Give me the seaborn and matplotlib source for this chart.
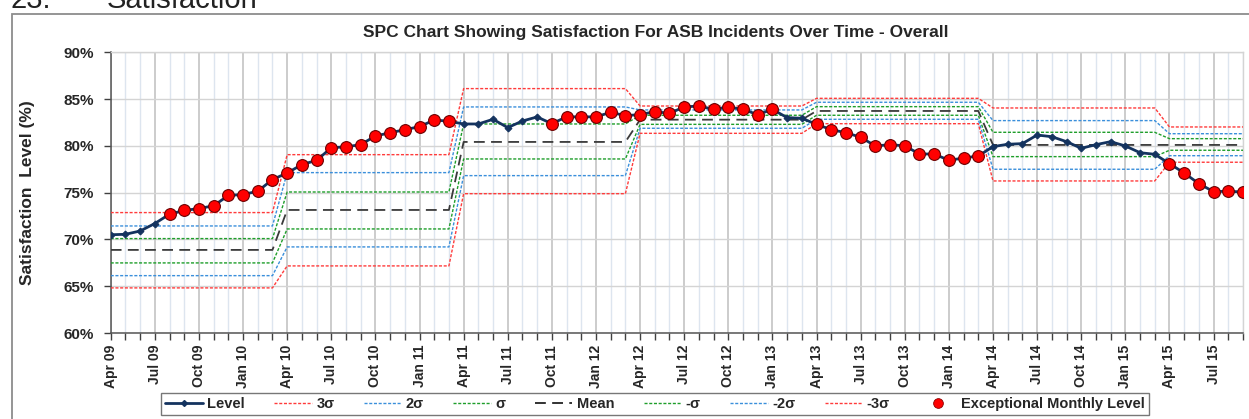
import numpy as np
import pandas as pd
import matplotlib
matplotlib.use("Agg")
import matplotlib.pyplot as plt
import seaborn as sns
from matplotlib.lines import Line2D
from matplotlib.patches import Rectangle

# ---------------- data ----------------
month_labels = list(pd.date_range("2009-04-01", periods=78, freq="MS").strftime("%b %y"))

level = [70.5, 70.55, 70.9, 71.7, 72.7, 73.1, 73.3, 73.6, 74.7, 74.8,
         75.15, 76.4, 77.1, 78.0, 78.45, 79.8, 79.9, 80.13, 81.06, 81.4,
         81.73, 82.05, 82.77, 82.63, 82.34, 82.34, 82.84, 81.95, 82.66, 83.09,
         82.37, 83.1, 83.1, 83.1, 83.59, 83.23, 83.34, 83.66, 83.48, 84.16,
         84.26, 83.9, 84.16, 83.9, 83.34, 83.9, 83.02, 82.95, 82.3, 81.73,
         81.41, 80.92, 79.99, 80.13, 80.0, 79.13, 79.13, 78.46, 78.7, 78.92,
         79.92, 80.17, 80.24, 81.16, 80.98, 80.45, 79.74, 80.13, 80.45, 79.99,
         79.27, 79.1, 78.1, 77.1, 75.96, 75.11, 75.15, 75.07]

# exceptional months given as inclusive index runs
exceptional_runs = [(4, 23), (30, 45), (48, 59), (72, 77)]

# control limits per period (Apr-Mar years, last one partial)
period_len = [12, 12, 12, 12, 12, 12, 6]
plus3 = [72.87, 79.06, 86.12, 84.26, 85.08, 84.05, 82.02]
plus2 = [71.44, 77.14, 84.16, 83.84, 84.66, 82.70, 81.30]
plus1 = [70.09, 75.07, 82.34, 83.27, 84.19, 81.45, 80.77]
mean_ = [68.88, 73.15, 80.42, 82.80, 83.73, 80.10, 80.10]
minus1 = [67.49, 71.12, 78.60, 82.30, 83.27, 78.85, 79.53]
minus2 = [66.13, 69.20, 76.82, 81.88, 82.84, 77.50, 78.95]
minus3 = [64.82, 67.17, 74.89, 81.34, 82.37, 76.25, 78.25]

# ---------------- frames ----------------
idx = np.arange(len(level))
def expand(vals):
    return np.repeat(vals, period_len)

df = pd.DataFrame({"m": idx, "level": level,
                   "p3": expand(plus3), "p2": expand(plus2), "p1": expand(plus1),
                   "mean": expand(mean_), "m1": expand(minus1), "m2": expand(minus2),
                   "m3": expand(minus3)})
exc_idx = np.concatenate([np.arange(a, b + 1) for a, b in exceptional_runs])
exc = df.loc[exc_idx]

# ---------------- style ----------------
sns.set_theme(style="white")
plt.rcParams["font.family"] = ["Liberation Sans", "DejaVu Sans"]

W, H = 1249, 419
fig = plt.figure(figsize=(W / 100, H / 100), dpi=100)
fig.patch.set_facecolor("white")

# outer chart border
fig.add_artist(Rectangle((12 / W, -0.2), 1.5, (1 - 14 / H) + 0.2,
                         transform=fig.transFigure, fill=False,
                         edgecolor="#8c8c8c", lw=1.3, clip_on=False))

# section header (cut at the top edge, as in the source page)
fig.text(10 / W, 1 - 8 / H, "23.", fontsize=21, va="baseline", ha="left", color="#222222")
fig.text(107 / W, 1 - 8 / H, "Satisfaction", fontsize=21, va="baseline", ha="left", color="#222222")

left, right, top, bottom = 110.7, 1243, 52.3, 333
ax = fig.add_axes([left / W, 1 - bottom / H, (right - left) / W, (bottom - top) / H])
ax.set_facecolor("white")

RED = "#FF3B3B"
BLUE = "#3A8FDB"
GREEN = "#1E9E2A"
NAVY = "#14335F"
ls_dot = (0, (2.2, 1.2))

lines_spec = [("p3", RED, "3σ"), ("p2", BLUE, "2σ"), ("p1", GREEN, "σ"),
              ("m1", GREEN, "-σ"), ("m2", BLUE, "-2σ"), ("m3", RED, "-3σ")]
for col, c, lab in lines_spec:
    sns.lineplot(data=df, x="m", y=col, ax=ax, color=c, lw=1.0,
                 linestyle=ls_dot, zorder=3, legend=False)
sns.lineplot(data=df, x="m", y="mean", ax=ax, color="#3a3a3a", lw=1.3,
             linestyle=(0, (6, 3.5)), zorder=3, legend=False)
sns.lineplot(data=df, x="m", y="level", ax=ax, color=NAVY, lw=2.0,
             marker="D", markersize=3.5, markeredgecolor=NAVY, zorder=4, legend=False)
sns.scatterplot(data=exc, x="m", y="level", ax=ax, s=72, color="#FF0000",
                edgecolor="#6b0000", linewidth=0.8, zorder=5, legend=False)

# axes
ax.set_xlim(0, len(level) - 1)
ax.set_ylim(60, 90)
ax.set_xticks(np.arange(0, len(level), 3))
ax.set_xticklabels(month_labels[::3], rotation=90, fontsize=10, fontweight="bold")
ax.set_xticks(np.arange(0, len(level)), minor=True)
ax.set_yticks(np.arange(60, 91, 5))
ax.set_yticklabels([f"{v}%" for v in range(60, 91, 5)], fontsize=11, fontweight="bold")

ax.grid(axis="x", which="major", color="#BEBEBE", lw=1.1, zorder=0)
ax.grid(axis="x", which="minor", color="#DDE5EF", lw=1.0, zorder=0)
ax.grid(axis="y", which="major", color="#D4D4D4", lw=1.0, zorder=0)
ax.set_axisbelow(True)

ax.tick_params(axis="x", which="both", direction="out", length=5, width=1,
               color="#404040", bottom=True, pad=3.5)
ax.tick_params(axis="y", which="major", direction="out", length=5, width=1,
               color="#404040", left=True, pad=7)
for s in ["left", "bottom"]:
    ax.spines[s].set_color("#555555")
    ax.spines[s].set_linewidth(1.1)
for s in ["top", "right"]:
    ax.spines[s].set_color("#D4D4D4")
    ax.spines[s].set_linewidth(1.0)

ax.set_xlabel("")
ax.set_ylabel("Satisfaction  Level (%)", fontsize=12.5, fontweight="bold")
ax.yaxis.set_label_coords((35 - left) / (right - left), 0.5)

fig.text(655.5 / W, 1 - 32 / H,
         "SPC Chart Showing Satisfaction For ASB Incidents Over Time - Overall",
         ha="center", va="center", fontsize=12.5, fontweight="bold")

# legend
handles = [
    Line2D([], [], color=NAVY, lw=2, marker="D", markersize=3),
    Line2D([], [], color=RED, lw=1, linestyle=ls_dot),
    Line2D([], [], color=BLUE, lw=1, linestyle=ls_dot),
    Line2D([], [], color=GREEN, lw=1, linestyle=ls_dot),
    Line2D([], [], color="#222222", lw=1.3, linestyle=(0, (6, 3.5))),
    Line2D([], [], color=GREEN, lw=1, linestyle=ls_dot),
    Line2D([], [], color=BLUE, lw=1, linestyle=ls_dot),
    Line2D([], [], color=RED, lw=1, linestyle=ls_dot),
    Line2D([], [], color="#FF0000", lw=0, marker="o", markersize=7,
           markeredgecolor="#8b0000", markeredgewidth=0.6),
]
labels = ["Level", "3σ", "2σ", "σ", "Mean", "-σ", "-2σ", "-3σ", "Exceptional Monthly Level"]
leg = fig.legend(handles, labels, loc="center", bbox_to_anchor=(655 / W, 1 - 404 / H),
                 ncol=9, frameon=True, fancybox=False, edgecolor="#555555",
                 handlelength=2.6, handletextpad=0.3, columnspacing=2.0,
                 borderpad=0.25, prop={"size": 10.5, "weight": "bold"})
leg.get_frame().set_linewidth(1.0)

fig.savefig("out.png", dpi=100, facecolor="white")
